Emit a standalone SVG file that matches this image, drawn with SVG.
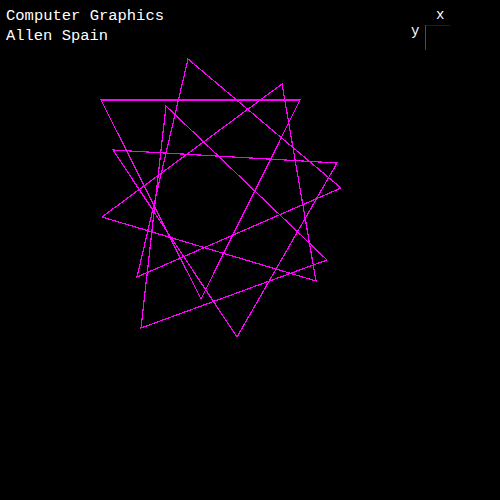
<svg xmlns="http://www.w3.org/2000/svg" width="500" height="500" viewBox="0 0 500 500">
<style>
.lbl{font-family:"Liberation Mono","DejaVu Sans Mono",monospace;font-size:14px;fill:#ffffff}
.tri{fill:none;stroke:#ff00ff;stroke-width:1.2;shape-rendering:crispEdges}
</style>
<rect x="0" y="0" width="500" height="500" fill="#000000"/>
<g id="title">
<text class="lbl" x="6" y="20" textLength="158" lengthAdjust="spacingAndGlyphs">Computer Graphics</text>
<text class="lbl" x="6" y="40" textLength="102" lengthAdjust="spacingAndGlyphs">Allen Spain</text>
</g>
<g id="axes">
<rect x="425" y="25" width="25" height="1" fill="#0000ff"/>
<rect x="425" y="25" width="1" height="25" fill="#ff0000"/>
<text class="lbl" x="436" y="19">x</text>
<text class="lbl" x="411" y="35">y</text>
</g>
<g id="connectors">
<polygon id="tri1" class="tri" points="101,100 300,100 201,299"/>
<polygon id="tri2" class="tri" points="188,59 137,277 341,188"/>
<polygon id="tri3" class="tri" points="282,84 102,217 316,281"/>
<polygon id="tri4" class="tri" points="166,106 141,328 327,260"/>
<polygon id="tri5" class="tri" points="113,150 337,163 237,337"/>
</g>
</svg>
